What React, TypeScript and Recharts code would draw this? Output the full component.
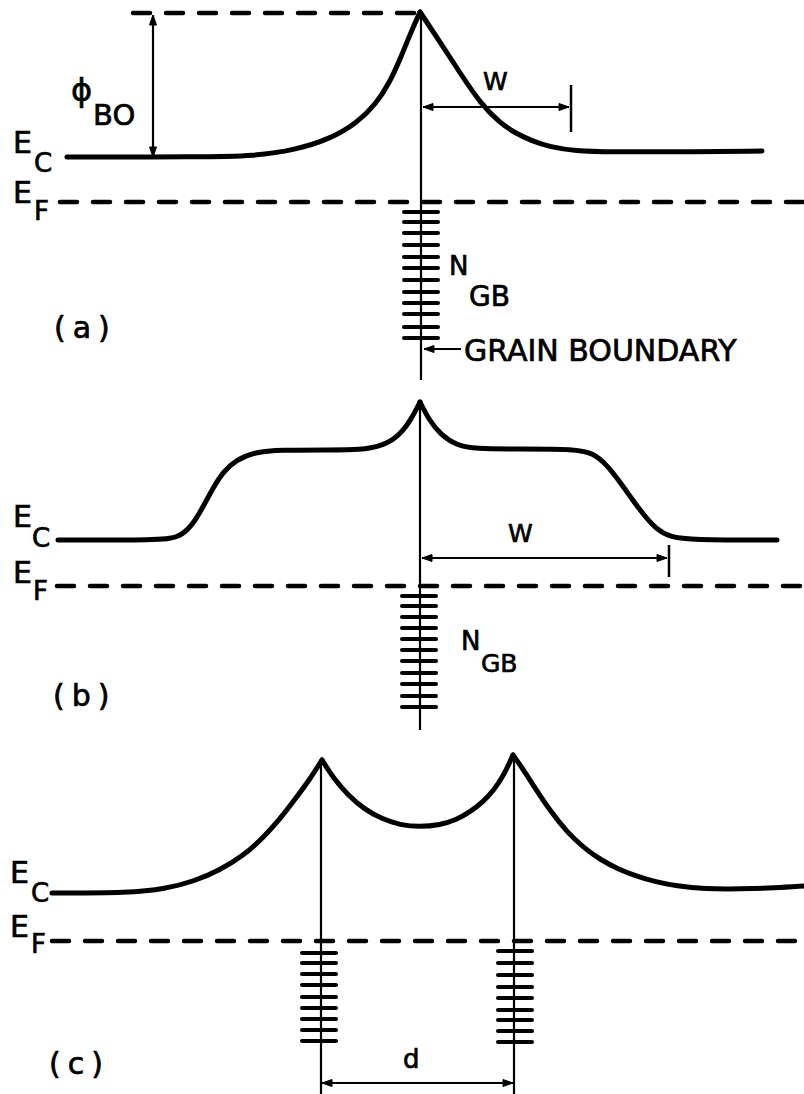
import React from 'react';
import { ComposedChart, Line, Scatter, XAxis, YAxis } from 'recharts';

const WIDTH = 804;
const HEIGHT = 1094;

// ---------- Panel (a) ----------
const ecA_left = [
  { x: 67, y: 157 }, { x: 200, y: 157 }, { x: 255, y: 156 }, { x: 295, y: 150 },
  { x: 330, y: 139 }, { x: 357, y: 123 }, { x: 376, y: 104 }, { x: 390, y: 82 },
  { x: 401, y: 57 }, { x: 411, y: 32 }, { x: 420, y: 12 },
];
const ecA_right = [
  { x: 420, y: 12 }, { x: 440, y: 42 }, { x: 460, y: 73 }, { x: 481, y: 104 },
  { x: 499, y: 122 }, { x: 515, y: 133 }, { x: 532, y: 141 }, { x: 550, y: 147 },
  { x: 575, y: 151 }, { x: 610, y: 152 }, { x: 680, y: 152 }, { x: 762, y: 151 },
];
const topDashA = [{ x: 133, y: 13 }, { x: 418, y: 13 }];
const efA = [{ x: 60, y: 202 }, { x: 804, y: 202 }];
const gbLineA = [{ x: 421, y: 12 }, { x: 421, y: 380 }];
const phiArrow = [{ x: 153, y: 15, h: 'up' }, { x: 153, y: 157, h: 'down' }];
const wArrowA = [{ x: 423, y: 107, h: 'left' }, { x: 569, y: 107, h: 'right' }];
const wBarA = [{ x: 571, y: 85 }, { x: 571, y: 132 }];
const gbArrowA = [{ x: 424, y: 349, h: 'left' }, { x: 461, y: 349, h: 'none' }];
const ticksA_x = 421;
const ticksA_y = [212, 222, 233, 245, 257, 268, 280, 292, 303, 314, 327, 338];

// ---------- Panel (b) ----------
const ecB_left = [
  { x: 58, y: 540 }, { x: 160, y: 540 }, { x: 178, y: 538 }, { x: 192, y: 526 },
  { x: 203, y: 507 }, { x: 213, y: 488 }, { x: 223, y: 472 }, { x: 236, y: 460 },
  { x: 255, y: 452 }, { x: 280, y: 450 }, { x: 330, y: 450 }, { x: 360, y: 450 },
  { x: 382, y: 446 }, { x: 398, y: 437 }, { x: 411, y: 420 }, { x: 420, y: 402 },
];
const ecB_right = [
  { x: 420, y: 402 }, { x: 429, y: 420 }, { x: 441, y: 435 }, { x: 456, y: 445 },
  { x: 475, y: 449 }, { x: 520, y: 449 }, { x: 575, y: 449 }, { x: 593, y: 453 },
  { x: 607, y: 465 }, { x: 620, y: 482 }, { x: 632, y: 499 }, { x: 643, y: 514 },
  { x: 656, y: 529 }, { x: 670, y: 537 }, { x: 690, y: 540 }, { x: 777, y: 540 },
];
const efB = [{ x: 57, y: 586 }, { x: 804, y: 586 }];
const gbLineB = [{ x: 420, y: 402 }, { x: 420, y: 730 }];
const wArrowB = [{ x: 422, y: 558, h: 'left' }, { x: 667, y: 558, h: 'right' }];
const wBarB = [{ x: 669, y: 545 }, { x: 669, y: 577 }];
const ticksB_x = 419;
const ticksB_y = [596, 606, 617, 628, 639, 650, 661, 673, 684, 696, 707];

// ---------- Panel (c) ----------
const ecC_left = [
  { x: 52, y: 893 }, { x: 130, y: 893 }, { x: 165, y: 889 }, { x: 195, y: 881 },
  { x: 220, y: 870 }, { x: 243, y: 856 }, { x: 263, y: 838 }, { x: 280, y: 819 },
  { x: 296, y: 798 }, { x: 310, y: 779 }, { x: 322, y: 760 },
];
const ecC_mid = [
  { x: 322, y: 760 }, { x: 334, y: 779 }, { x: 348, y: 795 }, { x: 364, y: 809 },
  { x: 382, y: 819 }, { x: 400, y: 825 }, { x: 420, y: 827 }, { x: 440, y: 825 },
  { x: 456, y: 820 }, { x: 470, y: 812 }, { x: 483, y: 802 }, { x: 494, y: 790 },
  { x: 504, y: 775 }, { x: 513, y: 755 },
];
const ecC_right = [
  { x: 513, y: 755 }, { x: 523, y: 769 }, { x: 535, y: 788 }, { x: 551, y: 812 },
  { x: 567, y: 832 }, { x: 584, y: 848 }, { x: 601, y: 860 }, { x: 618, y: 869 },
  { x: 636, y: 876 }, { x: 656, y: 882 }, { x: 676, y: 886 }, { x: 705, y: 889 },
  { x: 740, y: 889 }, { x: 775, y: 888 }, { x: 804, y: 886 },
];
const efC = [{ x: 52, y: 941 }, { x: 804, y: 941 }];
const gbLineC1 = [{ x: 321, y: 760 }, { x: 321, y: 1094 }];
const gbLineC2 = [{ x: 514, y: 755 }, { x: 514, y: 1094 }];
const dArrow = [{ x: 322, y: 1083, h: 'left' }, { x: 513, y: 1083, h: 'right' }];
const ticksC1_x = 319;
const ticksC1_y = [953, 963, 974, 985, 997, 1008, 1019, 1030, 1041];
const ticksC2_x = 515;
const ticksC2_y = [951, 963, 975, 987, 998, 1010, 1020, 1031, 1042];

// ---------- Text labels ----------
const labels = [
  // (a)
  { x: 71, y: 101, t: 'ϕ', k: 'phi' },
  { x: 93, y: 125, t: 'BO', k: 'big' },
  { x: 13, y: 153, t: 'E', k: 'main' },
  { x: 34, y: 172, t: 'C', k: 'sub' },
  { x: 13, y: 203, t: 'E', k: 'main' },
  { x: 34, y: 220, t: 'F', k: 'sub' },
  { x: 483, y: 90, t: 'W', k: 'w' },
  { x: 449, y: 275, t: 'N', k: 'n' },
  { x: 469, y: 306, t: 'GB', k: 'gb' },
  { x: 464, y: 361, t: 'GRAIN BOUNDARY', k: 'main' },
  { x: 54, y: 338, t: '(a)', k: 'panel' },
  // (b)
  { x: 13, y: 527, t: 'E', k: 'main' },
  { x: 32, y: 547, t: 'C', k: 'sub' },
  { x: 13, y: 583, t: 'E', k: 'main' },
  { x: 33, y: 600, t: 'F', k: 'sub' },
  { x: 508, y: 542, t: 'W', k: 'w' },
  { x: 461, y: 650, t: 'N', k: 'n' },
  { x: 481, y: 672, t: 'GB', k: 'gbs' },
  { x: 53, y: 706, t: '(b)', k: 'panel' },
  // (c)
  { x: 10, y: 883, t: 'E', k: 'main' },
  { x: 31, y: 902, t: 'C', k: 'sub' },
  { x: 10, y: 937, t: 'E', k: 'main' },
  { x: 31, y: 953, t: 'F', k: 'sub' },
  { x: 403, y: 1068, t: 'd', k: 'd' },
  { x: 49, y: 1074, t: '(c)', k: 'panel' },
];

const FONT_SIZE: Record<string, number> = {
  phi: 32, big: 29, main: 30, sub: 26, w: 25, n: 26, gb: 28, gbs: 25, panel: 30, d: 26,
};
const LETTER_SPACING: Record<string, number> = { panel: 7, main: 0 };

const INK = '#000';
const TICK_HALF = 17;

const tickData = (x: number, ys: number[]) => ys.map((y) => ({ x, y }));

const tickShape = (p: any) => (
  <line
    x1={p.cx - TICK_HALF}
    x2={p.cx + TICK_HALF}
    y1={p.cy}
    y2={p.cy}
    stroke={INK}
    strokeWidth={4}
    strokeLinecap="round"
  />
);

const textShape = (p: any) => {
  const d = p.payload;
  return (
    <text
      x={p.cx}
      y={p.cy}
      fontSize={FONT_SIZE[d.k]}
      fontFamily="DejaVu Sans, Liberation Sans, sans-serif"
      letterSpacing={LETTER_SPACING[d.k] || 0}
      fill={INK}
      stroke={INK}
      strokeWidth={0.7}
    >
      {d.t}
    </text>
  );
};

const arrowDot = (p: any) => {
  const { cx, cy, payload, index } = p;
  const L = 10;
  const w = 3.5;
  let d = '';
  switch (payload.h) {
    case 'up': d = `M${cx},${cy} L${cx - w},${cy + L} L${cx + w},${cy + L} Z`; break;
    case 'down': d = `M${cx},${cy} L${cx - w},${cy - L} L${cx + w},${cy - L} Z`; break;
    case 'left': d = `M${cx},${cy} L${cx + L},${cy - w} L${cx + L},${cy + w} Z`; break;
    case 'right': d = `M${cx},${cy} L${cx - L},${cy - w} L${cx - L},${cy + w} Z`; break;
    default: return <g key={`n${index}`} />;
  }
  return <path key={`a${index}`} d={d} fill={INK} stroke={INK} strokeWidth={1} />;
};

const curve = (data: any[], key: string) => (
  <Line
    key={key}
    data={data}
    dataKey="y"
    type="basis"
    stroke={INK}
    strokeWidth={5}
    strokeLinecap="round"
    strokeLinejoin="round"
    dot={false}
    activeDot={false}
    isAnimationActive={false}
  />
);

const dashed = (data: any[], key: string) => (
  <Line
    key={key}
    data={data}
    dataKey="y"
    type="linear"
    stroke={INK}
    strokeWidth={4.5}
    strokeDasharray="17 16"
    strokeLinecap="round"
    dot={false}
    activeDot={false}
    isAnimationActive={false}
  />
);

const thin = (data: any[], key: string, w = 2.2) => (
  <Line
    key={key}
    data={data}
    dataKey="y"
    type="linear"
    stroke={INK}
    strokeWidth={w}
    dot={false}
    activeDot={false}
    isAnimationActive={false}
  />
);

const arrow = (data: any[], key: string) => (
  <Line
    key={key}
    data={data}
    dataKey="y"
    type="linear"
    stroke={INK}
    strokeWidth={2.2}
    dot={arrowDot}
    activeDot={false}
    isAnimationActive={false}
  />
);

const tickStack = (data: any[], key: string) => (
  <Scatter key={key} data={data} dataKey="y" shape={tickShape} isAnimationActive={false} />
);

export default function App() {
  return (
    <div style={{ position: 'absolute', left: 0, top: 0, width: WIDTH, height: HEIGHT, background: '#fff' }}>
      <ComposedChart width={WIDTH} height={HEIGHT} margin={{ top: 0, right: 0, bottom: 0, left: 0 }}>
        <XAxis type="number" dataKey="x" domain={[0, WIDTH]} allowDataOverflow hide />
        <YAxis type="number" dataKey="y" domain={[0, HEIGHT]} allowDataOverflow reversed hide />

        {thin(gbLineA, 'gbA')}
        {thin(gbLineB, 'gbB')}
        {thin(gbLineC1, 'gbC1')}
        {thin(gbLineC2, 'gbC2')}

        {dashed(topDashA, 'topA')}
        {dashed(efA, 'efA')}
        {dashed(efB, 'efB')}
        {dashed(efC, 'efC')}

        {curve(ecA_left, 'aL')}
        {curve(ecA_right, 'aR')}
        {curve(ecB_left, 'bL')}
        {curve(ecB_right, 'bR')}
        {curve(ecC_left, 'cL')}
        {curve(ecC_mid, 'cM')}
        {curve(ecC_right, 'cR')}

        {arrow(phiArrow, 'phiArr')}
        {arrow(wArrowA, 'wA')}
        {thin(wBarA, 'wBarA', 2.5)}
        {arrow(gbArrowA, 'gbArr')}
        {arrow(wArrowB, 'wB')}
        {thin(wBarB, 'wBarB', 2.5)}
        {arrow(dArrow, 'dArr')}

        {tickStack(tickData(ticksA_x, ticksA_y), 'tA')}
        {tickStack(tickData(ticksB_x, ticksB_y), 'tB')}
        {tickStack(tickData(ticksC1_x, ticksC1_y), 'tC1')}
        {tickStack(tickData(ticksC2_x, ticksC2_y), 'tC2')}

        <Scatter data={labels} dataKey="y" shape={textShape} isAnimationActive={false} />
      </ComposedChart>
    </div>
  );
}
